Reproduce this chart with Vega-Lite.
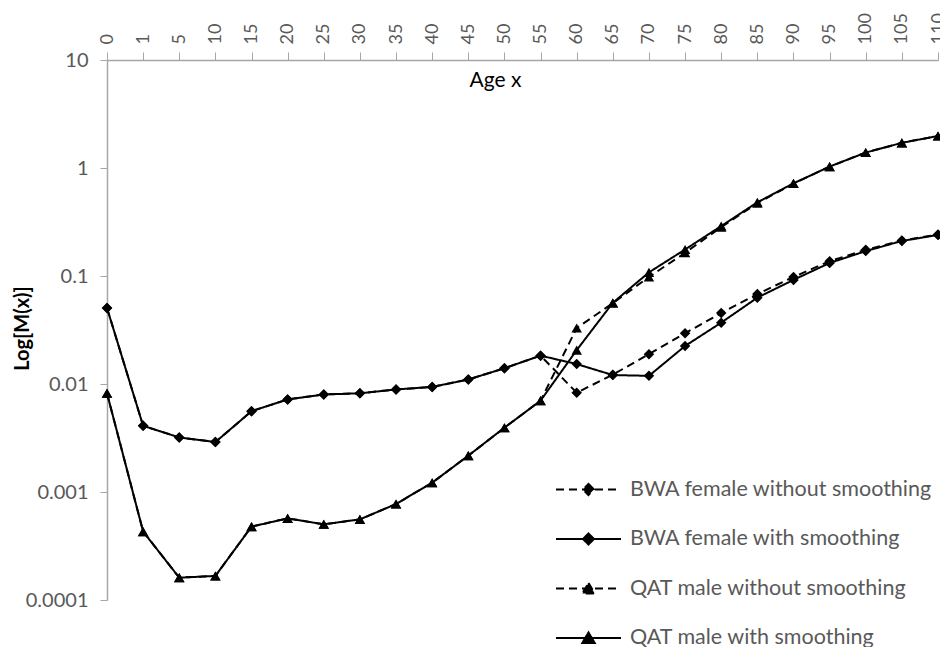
{
  "$schema": "https://vega.github.io/schema/vega-lite/v6.json",
  "width": 831,
  "height": 540,
  "autosize": {"type": "none"},
  "padding": {"left": 107, "top": 60, "right": 2, "bottom": 47},
  "background": "white",
  "config": {
    "view": {"stroke": null},
    "font": "Lato",
    "axis": {"domainColor": "#A6A6A6", "tickColor": "#A6A6A6", "labelColor": "#595959", "labelFont": "Lato", "titleFont": "Lato", "grid": false}
  },
  "data": {
    "values": [
      {"age": "0", "pop": "BWA female", "series": "BWA female without smoothing", "m": 0.0506},
      {"age": "1", "pop": "BWA female", "series": "BWA female without smoothing", "m": 0.0041},
      {"age": "5", "pop": "BWA female", "series": "BWA female without smoothing", "m": 0.0032},
      {"age": "10", "pop": "BWA female", "series": "BWA female without smoothing", "m": 0.0029},
      {"age": "15", "pop": "BWA female", "series": "BWA female without smoothing", "m": 0.0056},
      {"age": "20", "pop": "BWA female", "series": "BWA female without smoothing", "m": 0.0072},
      {"age": "25", "pop": "BWA female", "series": "BWA female without smoothing", "m": 0.008},
      {"age": "30", "pop": "BWA female", "series": "BWA female without smoothing", "m": 0.0082},
      {"age": "35", "pop": "BWA female", "series": "BWA female without smoothing", "m": 0.0089},
      {"age": "40", "pop": "BWA female", "series": "BWA female without smoothing", "m": 0.0094},
      {"age": "45", "pop": "BWA female", "series": "BWA female without smoothing", "m": 0.011},
      {"age": "50", "pop": "BWA female", "series": "BWA female without smoothing", "m": 0.014},
      {"age": "55", "pop": "BWA female", "series": "BWA female without smoothing", "m": 0.0183},
      {"age": "60", "pop": "BWA female", "series": "BWA female without smoothing", "m": 0.0083},
      {"age": "65", "pop": "BWA female", "series": "BWA female without smoothing", "m": 0.0122},
      {"age": "70", "pop": "BWA female", "series": "BWA female without smoothing", "m": 0.0189},
      {"age": "75", "pop": "BWA female", "series": "BWA female without smoothing", "m": 0.0295},
      {"age": "80", "pop": "BWA female", "series": "BWA female without smoothing", "m": 0.0454},
      {"age": "85", "pop": "BWA female", "series": "BWA female without smoothing", "m": 0.068},
      {"age": "90", "pop": "BWA female", "series": "BWA female without smoothing", "m": 0.098},
      {"age": "95", "pop": "BWA female", "series": "BWA female without smoothing", "m": 0.137},
      {"age": "100", "pop": "BWA female", "series": "BWA female without smoothing", "m": 0.175},
      {"age": "105", "pop": "BWA female", "series": "BWA female without smoothing", "m": 0.213},
      {"age": "110", "pop": "BWA female", "series": "BWA female without smoothing", "m": 0.242},
      {"age": "0", "pop": "BWA female", "series": "BWA female with smoothing", "m": 0.0506},
      {"age": "1", "pop": "BWA female", "series": "BWA female with smoothing", "m": 0.0041},
      {"age": "5", "pop": "BWA female", "series": "BWA female with smoothing", "m": 0.0032},
      {"age": "10", "pop": "BWA female", "series": "BWA female with smoothing", "m": 0.0029},
      {"age": "15", "pop": "BWA female", "series": "BWA female with smoothing", "m": 0.0056},
      {"age": "20", "pop": "BWA female", "series": "BWA female with smoothing", "m": 0.0072},
      {"age": "25", "pop": "BWA female", "series": "BWA female with smoothing", "m": 0.008},
      {"age": "30", "pop": "BWA female", "series": "BWA female with smoothing", "m": 0.0082},
      {"age": "35", "pop": "BWA female", "series": "BWA female with smoothing", "m": 0.0089},
      {"age": "40", "pop": "BWA female", "series": "BWA female with smoothing", "m": 0.0094},
      {"age": "45", "pop": "BWA female", "series": "BWA female with smoothing", "m": 0.011},
      {"age": "50", "pop": "BWA female", "series": "BWA female with smoothing", "m": 0.014},
      {"age": "55", "pop": "BWA female", "series": "BWA female with smoothing", "m": 0.0183},
      {"age": "60", "pop": "BWA female", "series": "BWA female with smoothing", "m": 0.0153},
      {"age": "65", "pop": "BWA female", "series": "BWA female with smoothing", "m": 0.0121},
      {"age": "70", "pop": "BWA female", "series": "BWA female with smoothing", "m": 0.0119},
      {"age": "75", "pop": "BWA female", "series": "BWA female with smoothing", "m": 0.0225},
      {"age": "80", "pop": "BWA female", "series": "BWA female with smoothing", "m": 0.037},
      {"age": "85", "pop": "BWA female", "series": "BWA female with smoothing", "m": 0.063},
      {"age": "90", "pop": "BWA female", "series": "BWA female with smoothing", "m": 0.092},
      {"age": "95", "pop": "BWA female", "series": "BWA female with smoothing", "m": 0.132},
      {"age": "100", "pop": "BWA female", "series": "BWA female with smoothing", "m": 0.17},
      {"age": "105", "pop": "BWA female", "series": "BWA female with smoothing", "m": 0.211},
      {"age": "110", "pop": "BWA female", "series": "BWA female with smoothing", "m": 0.24},
      {"age": "0", "pop": "QAT male", "series": "QAT male without smoothing", "m": 0.0082},
      {"age": "1", "pop": "QAT male", "series": "QAT male without smoothing", "m": 0.00043},
      {"age": "5", "pop": "QAT male", "series": "QAT male without smoothing", "m": 0.000161},
      {"age": "10", "pop": "QAT male", "series": "QAT male without smoothing", "m": 0.000167},
      {"age": "15", "pop": "QAT male", "series": "QAT male without smoothing", "m": 0.000478},
      {"age": "20", "pop": "QAT male", "series": "QAT male without smoothing", "m": 0.00057},
      {"age": "25", "pop": "QAT male", "series": "QAT male without smoothing", "m": 0.000502},
      {"age": "30", "pop": "QAT male", "series": "QAT male without smoothing", "m": 0.000558},
      {"age": "35", "pop": "QAT male", "series": "QAT male without smoothing", "m": 0.000774},
      {"age": "40", "pop": "QAT male", "series": "QAT male without smoothing", "m": 0.00122},
      {"age": "45", "pop": "QAT male", "series": "QAT male without smoothing", "m": 0.00217},
      {"age": "50", "pop": "QAT male", "series": "QAT male without smoothing", "m": 0.00394},
      {"age": "55", "pop": "QAT male", "series": "QAT male without smoothing", "m": 0.00701},
      {"age": "60", "pop": "QAT male", "series": "QAT male without smoothing", "m": 0.033},
      {"age": "65", "pop": "QAT male", "series": "QAT male without smoothing", "m": 0.056},
      {"age": "70", "pop": "QAT male", "series": "QAT male without smoothing", "m": 0.098},
      {"age": "75", "pop": "QAT male", "series": "QAT male without smoothing", "m": 0.164},
      {"age": "80", "pop": "QAT male", "series": "QAT male without smoothing", "m": 0.283},
      {"age": "85", "pop": "QAT male", "series": "QAT male without smoothing", "m": 0.472},
      {"age": "90", "pop": "QAT male", "series": "QAT male without smoothing", "m": 0.718},
      {"age": "95", "pop": "QAT male", "series": "QAT male without smoothing", "m": 1.03},
      {"age": "100", "pop": "QAT male", "series": "QAT male without smoothing", "m": 1.39},
      {"age": "105", "pop": "QAT male", "series": "QAT male without smoothing", "m": 1.71},
      {"age": "110", "pop": "QAT male", "series": "QAT male without smoothing", "m": 1.98},
      {"age": "0", "pop": "QAT male", "series": "QAT male with smoothing", "m": 0.0082},
      {"age": "1", "pop": "QAT male", "series": "QAT male with smoothing", "m": 0.00043},
      {"age": "5", "pop": "QAT male", "series": "QAT male with smoothing", "m": 0.000161},
      {"age": "10", "pop": "QAT male", "series": "QAT male with smoothing", "m": 0.000167},
      {"age": "15", "pop": "QAT male", "series": "QAT male with smoothing", "m": 0.000478},
      {"age": "20", "pop": "QAT male", "series": "QAT male with smoothing", "m": 0.00057},
      {"age": "25", "pop": "QAT male", "series": "QAT male with smoothing", "m": 0.000502},
      {"age": "30", "pop": "QAT male", "series": "QAT male with smoothing", "m": 0.000558},
      {"age": "35", "pop": "QAT male", "series": "QAT male with smoothing", "m": 0.000774},
      {"age": "40", "pop": "QAT male", "series": "QAT male with smoothing", "m": 0.00122},
      {"age": "45", "pop": "QAT male", "series": "QAT male with smoothing", "m": 0.00217},
      {"age": "50", "pop": "QAT male", "series": "QAT male with smoothing", "m": 0.00394},
      {"age": "55", "pop": "QAT male", "series": "QAT male with smoothing", "m": 0.00701},
      {"age": "60", "pop": "QAT male", "series": "QAT male with smoothing", "m": 0.0206},
      {"age": "65", "pop": "QAT male", "series": "QAT male with smoothing", "m": 0.0565},
      {"age": "70", "pop": "QAT male", "series": "QAT male with smoothing", "m": 0.108},
      {"age": "75", "pop": "QAT male", "series": "QAT male with smoothing", "m": 0.176},
      {"age": "80", "pop": "QAT male", "series": "QAT male with smoothing", "m": 0.29},
      {"age": "85", "pop": "QAT male", "series": "QAT male with smoothing", "m": 0.481},
      {"age": "90", "pop": "QAT male", "series": "QAT male with smoothing", "m": 0.721},
      {"age": "95", "pop": "QAT male", "series": "QAT male with smoothing", "m": 1.03},
      {"age": "100", "pop": "QAT male", "series": "QAT male with smoothing", "m": 1.39},
      {"age": "105", "pop": "QAT male", "series": "QAT male with smoothing", "m": 1.71},
      {"age": "110", "pop": "QAT male", "series": "QAT male with smoothing", "m": 1.98}
    ]
  },
  "encoding": {
    "x": {
      "field": "age",
      "type": "ordinal",
      "sort": ["0","1","5","10","15","20","25","30","35","40","45","50","55","60","65","70","75","80","85","90","95","100","105","110"],
      "scale": {"type": "point", "padding": 0},
      "axis": {
        "orient": "top",
        "title": "Age x",
        "titleFontSize": 21,
        "titleFontWeight": "normal",
        "titleColor": "black",
        "titleX": 388,
        "titleY": 20,
        "titleBaseline": "middle",
        "titleAlign": "center",
        "labelAngle": 270,
        "labelFontSize": 18,
        "labelPadding": 8,
        "tickSize": 8,
        "domainWidth": 1.5
      }
    },
    "y": {
      "field": "m",
      "type": "quantitative",
      "scale": {"type": "log", "domain": [0.0001, 10], "nice": false},
      "axis": {
        "title": "Log[M(x)]",
        "titleFontSize": 20,
        "titleFontWeight": "bold",
        "titleColor": "black",
        "titleX": -85,
        "titleY": 268,
        "titleBaseline": "middle",
        "titleAlign": "center",
        "titleAngle": 270,
        "values": [0.0001, 0.001, 0.01, 0.1, 1, 10],
        "format": "~g",
        "labelFontSize": 20,
        "labelPadding": 12,
        "tickSize": 7,
        "domainWidth": 1.5
      }
    }
  },
  "layer": [
    {
      "mark": {"type": "line", "color": "black", "strokeWidth": 2},
      "encoding": {
        "strokeDash": {
          "field": "series",
          "type": "nominal",
          "scale": {
            "domain": ["BWA female without smoothing", "BWA female with smoothing", "QAT male without smoothing", "QAT male with smoothing"],
            "range": [[8, 5], [1, 0], [8, 5], [1, 0]]
          },
          "legend": {
            "title": null,
            "orient": "none",
            "legendX": 448,
            "legendY": 396,
            "symbolSize": 4225,
            "symbolStrokeWidth": 2,
            "symbolStrokeColor": "black",
            "symbolFillColor": "black",
            "labelFontSize": 21.5,
            "labelColor": "#595959",
            "labelFont": "Lato",
            "labelLimit": 500,
            "labelOffset": 8,
            "rowPadding": 5.5,
            "encode": {
              "symbols": {
                "update": {
                  "shape": {"signal": "indexof(datum.label, 'QAT') === 0 ? 'M-1,0H1M0,-0.17L0.19,0.15L-0.19,0.15Z' : 'M-1,0H1M0,-0.17L0.17,0L0,0.17L-0.17,0Z'"},
                  "fill": {"value": "black"},
                  "stroke": {"value": "black"},
                  "strokeWidth": {"value": 2}
                }
              }
            }
          }
        }
      }
    },
    {
      "mark": {"type": "point", "filled": true, "color": "black", "size": 110, "opacity": 1},
      "encoding": {
        "shape": {
          "field": "pop",
          "type": "nominal",
          "scale": {
            "domain": ["BWA female", "QAT male"],
            "range": ["diamond", "triangle-up"]
          },
          "legend": null
        }
      }
    }
  ]
}
